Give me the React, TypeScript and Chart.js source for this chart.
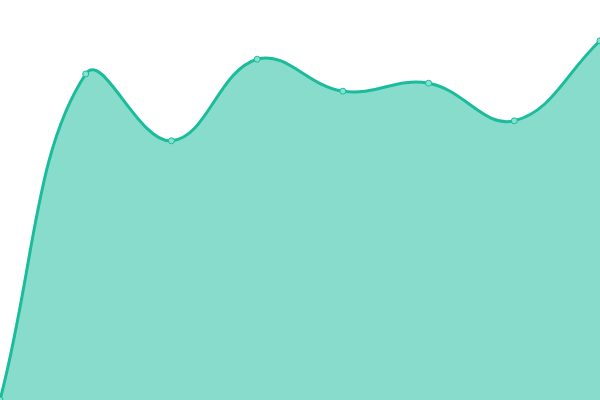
import { Chart, registerables } from 'chart.js'
import { useEffect, useRef } from 'react'

Chart.register(...registerables)

const labels = ['1', '2', '3', '4', '5', '6', '7', '8']
const values = [0, 81.5, 64.8, 85.2, 77.2, 79.2, 69.8, 89.8]

export default function App() {
  const chartRef = useRef<HTMLCanvasElement>(null)
  const chartInstance = useRef<Chart | null>(null)

  useEffect(() => {
    if (!chartRef.current) return
    if (chartInstance.current) chartInstance.current.destroy()

    chartInstance.current = new Chart(chartRef.current, {
      type: 'line',
      data: {
        labels,
        datasets: [{
          data: values,
          borderColor: '#1abc9c',
          backgroundColor: 'rgba(26, 188, 156, 0.52)',
          borderWidth: 3,
          fill: true,
          tension: 0.4,
          pointRadius: 3,
          pointBorderWidth: 1,
          pointBackgroundColor: '#88e0cf',
          pointBorderColor: '#1abc9c',
        }],
      },
      options: {
        animation: false,
        responsive: true,
        maintainAspectRatio: false,
        layout: { padding: 0, autoPadding: false },
        scales: {
          x: { display: false },
          y: { display: false, min: 0, max: 100 },
        },
        plugins: {
          legend: { display: false },
          tooltip: { enabled: false },
        },
      },
    })

    return () => {
      if (chartInstance.current) {
        chartInstance.current.destroy()
        chartInstance.current = null
      }
    }
  }, [])

  return (
    <div style={{ position: 'fixed', left: 0, top: 0, width: 600, height: 400 }}>
      <canvas ref={chartRef}></canvas>
    </div>
  )
}
